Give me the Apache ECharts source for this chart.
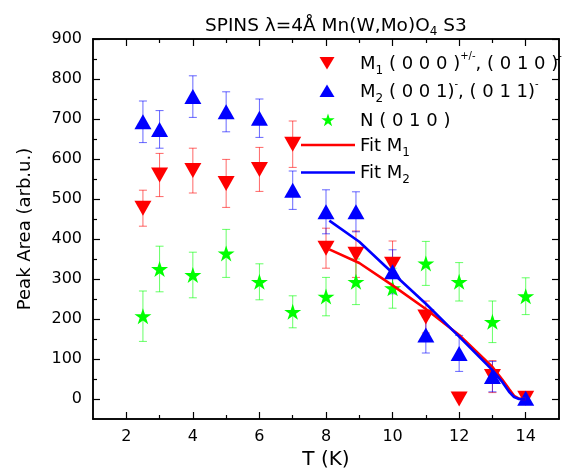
<!DOCTYPE html>
<html><head><meta charset="utf-8">
<script src="https://cdn.jsdelivr.net/npm/echarts@6/dist/echarts.min.js"></script>
<style>html,body{margin:0;padding:0;background:#fff}#c{width:567px;height:472px}</style>
</head><body><div id="c"></div>
<script>
// ---- data ----
const T = [2.5, 3, 4, 5, 6, 7, 8, 8.9, 10, 11, 12, 13, 14];
const m1 = [477, 560, 571, 539, 574, 637, 377, 362, 337, 205, 0, 56, 2];
const m1Err = [45, 54, 56, 60, 55, 58, 50, 58, 58, 40, 0, 40, 8];
const m2 = [693, 674, 756, 718, 702, 522, 468, 468, 318, 160, 114, 56, 2];
const m2Err = [52, 47, 52, 50, 48, 48, 55, 50, 55, 45, 45, 38, 8];
const nVal = [207, 325, 310, 364, 293, 218, 256, 293, 277, 339, 293, 193, 257];
const nErr = [63, 57, 57, 60, 45, 40, 48, 57, 50, 55, 48, 52, 46];
const fitT = [8.1, 9, 10, 11, 12, 13, 13.3, 13.5, 13.65, 13.8, 14];
const fit1 = [374, 340, 284, 225, 160, 80, 48, 25, 8, 1, 0];
const fit2 = [446, 393, 315, 238, 156, 72, 42, 18, 5, 0, 0];
const xMajor = [2, 4, 6, 8, 10, 12, 14];
const xMinor = [3, 5, 7, 9, 11, 13];
const yMajor = [0, 100, 200, 300, 400, 500, 600, 700, 800, 900];
const yMinor = [50, 150, 250, 350, 450, 550, 650, 750, 850];

const FONT = "'DejaVu Sans', 'Liberation Sans', Arial, sans-serif";
const RED = '#ff0000', BLUE = '#0000ff', GREEN = '#00ff00';
const STAR = 'path://M0,-10L2.245,-3.09L9.511,-3.09L3.633,1.18L5.878,8.09L0,3.82L-5.878,8.09L-3.633,1.18L-9.511,-3.09L-2.245,-3.09Z';

function errSeries(vals, errs, color) {
  return {
    type: 'custom', xAxisIndex: 0, yAxisIndex: 0, silent: true,
    data: T.map((t, i) => [t, vals[i], errs[i]]),
    renderItem: function (params, api) {
      const x = api.value(0), y = api.value(1), e = api.value(2);
      if (!e) return null;
      const hi = api.coord([x, y + e]), lo = api.coord([x, y - e]);
      const w = 4;
      const st = { stroke: color, lineWidth: 1, opacity: 0.6 };
      return { type: 'group', children: [
        { type: 'line', shape: { x1: hi[0], y1: hi[1], x2: lo[0], y2: lo[1] }, style: st },
        { type: 'line', shape: { x1: hi[0] - w, y1: hi[1], x2: hi[0] + w, y2: hi[1] }, style: st },
        { type: 'line', shape: { x1: lo[0] - w, y1: lo[1], x2: lo[0] + w, y2: lo[1] }, style: st }
      ]};
    }
  };
}

function xAx(pos, ticks, len, showLabel, name) {
  const a = {
    type: 'value', position: pos, min: 1, max: 15,
    axisLine: { show: true, onZero: false, lineStyle: { color: '#000', width: 1.5 } },
    axisTick: { show: true, inside: true, length: len, customValues: ticks, lineStyle: { color: '#000', width: 1.2 } },
    axisLabel: showLabel ? { show: true, customValues: ticks, fontSize: 16, color: '#000', fontFamily: FONT, margin: 10 } : { show: false },
    splitLine: { show: false }
  };
  if (name) {
    a.name = name; a.nameLocation = 'middle'; a.nameGap = 28;
    a.nameTextStyle = { fontSize: 20, color: '#000', fontFamily: FONT };
  }
  return a;
}
function yAx(pos, ticks, len, showLabel, name) {
  const a = {
    type: 'value', position: pos, min: -50, max: 900,
    axisLine: { show: true, onZero: false, lineStyle: { color: '#000', width: 1.5 } },
    axisTick: { show: true, inside: true, length: len, customValues: ticks, lineStyle: { color: '#000', width: 1.2 } },
    axisLabel: showLabel ? { show: true, customValues: ticks, fontSize: 16, color: '#000', fontFamily: FONT, margin: 11 } : { show: false },
    splitLine: { show: false }
  };
  if (name) {
    a.name = name; a.nameLocation = 'middle'; a.nameGap = 59;
    a.nameTextStyle = { fontSize: 18, color: '#000', fontFamily: FONT };
  }
  return a;
}

function starPts(cx, cy, R) {
  const pts = [], r = R * 0.382;
  for (let k = 0; k < 10; k++) {
    const ang = -Math.PI / 2 + k * Math.PI / 5;
    const rr = k % 2 ? r : R;
    pts.push([cx + rr * Math.cos(ang), cy + rr * Math.sin(ang)]);
  }
  return pts;
}

const rich = {
  m: { fontSize: 18, fontFamily: FONT, color: '#000', lineHeight: 26, verticalAlign: 'middle' },
  s: { fontSize: 12, fontFamily: FONT, color: '#000', lineHeight: 12, verticalAlign: 'bottom' },
  p: { fontSize: 10, fontFamily: FONT, color: '#000', lineHeight: 12, verticalAlign: 'top' }
};
function legText(str, y) {
  return { type: 'text', z: 100, style: { x: 360, y: y, text: str, rich: rich, verticalAlign: 'middle', align: 'left', fontSize: 18, fontFamily: FONT } };
}

const chart = echarts.init(document.getElementById('c'), null, { renderer: 'canvas' });
chart.setOption({
  animation: false,
  backgroundColor: '#fff',
  title: {
    text: '{t|SPINS λ=4Å Mn(W,Mo)O}{s|4}{t| S3}',
    left: 200, top: 9,
    textStyle: {
      fontWeight: 'normal',
      rich: {
        t: { fontSize: 18.5, fontFamily: FONT, fontWeight: 'normal', color: '#000', lineHeight: 24, verticalAlign: 'middle' },
        s: { fontSize: 12, fontFamily: FONT, fontWeight: 'normal', color: '#000', lineHeight: 11, verticalAlign: 'bottom' }
      }
    }
  },
  grid: { left: 93, right: 8, top: 39, bottom: 53, containLabel: false, outerBoundsMode: 'none' },
  xAxis: [
    xAx('bottom', xMajor, 7, true, 'T (K)'),
    xAx('bottom', xMinor, 4, false),
    xAx('top', xMajor, 7, false),
    xAx('top', xMinor, 4, false)
  ],
  yAxis: [
    yAx('left', yMajor, 7, true, 'Peak Area (arb.u.)'),
    yAx('left', yMinor, 4, false),
    yAx('right', yMajor, 7, false),
    yAx('right', yMinor, 4, false)
  ],
  series: [
    errSeries(m1, m1Err, RED),
    { type: 'scatter', xAxisIndex: 0, yAxisIndex: 0, symbol: 'triangle', symbolRotate: 180, symbolSize: [17, 15],
      itemStyle: { color: RED, opacity: 1 }, data: T.map((t, i) => [t, m1[i]]) },
    errSeries(m2, m2Err, BLUE),
    { type: 'scatter', xAxisIndex: 0, yAxisIndex: 0, symbol: 'triangle', symbolSize: [17, 15],
      itemStyle: { color: BLUE, opacity: 1 }, data: T.map((t, i) => [t, m2[i]]) },
    errSeries(nVal, nErr, GREEN),
    { type: 'scatter', xAxisIndex: 0, yAxisIndex: 0, symbol: STAR, symbolSize: [17, 16],
      itemStyle: { color: GREEN, opacity: 1 }, data: T.map((t, i) => [t, nVal[i]]) },
    { type: 'line', xAxisIndex: 0, yAxisIndex: 0, showSymbol: false, symbol: 'none',
      lineStyle: { color: RED, width: 2.6 }, data: fitT.map((t, i) => [t, fit1[i]]) },
    { type: 'line', xAxisIndex: 0, yAxisIndex: 0, showSymbol: false, symbol: 'none',
      lineStyle: { color: BLUE, width: 2.6 }, data: fitT.map((t, i) => [t, fit2[i]]) }
  ],
  graphic: [
    { type: 'polygon', z: 100, shape: { points: [[319.5, 57], [334.5, 57], [327, 69.5]] }, style: { fill: RED } },
    { type: 'polygon', z: 100, shape: { points: [[319.5, 97], [334.5, 97], [327, 84.5]] }, style: { fill: BLUE } },
    { type: 'polygon', z: 100, shape: { points: starPts(328, 120.5, 7) }, style: { fill: GREEN } },
    { type: 'line', z: 100, shape: { x1: 301, y1: 145, x2: 355, y2: 145 }, style: { stroke: RED, lineWidth: 2.6 } },
    { type: 'line', z: 100, shape: { x1: 301, y1: 172.5, x2: 355, y2: 172.5 }, style: { stroke: BLUE, lineWidth: 2.6 } },
    legText('{m|M}{s|1}{m| ( 0 0 0 )}{p|+/-}{m|, ( 0 1 0 )}{p|-}', 64),
    legText('{m|M}{s|2}{m| ( 0 0 1)}{p|-}{m|, ( 0 1 1)}{p|-}', 92),
    legText('{m|N ( 0 1 0 )}', 121),
    legText('{m|Fit M}{s|1}', 146),
    legText('{m|Fit M}{s|2}', 173)
  ]
});
</script>
</body></html>
